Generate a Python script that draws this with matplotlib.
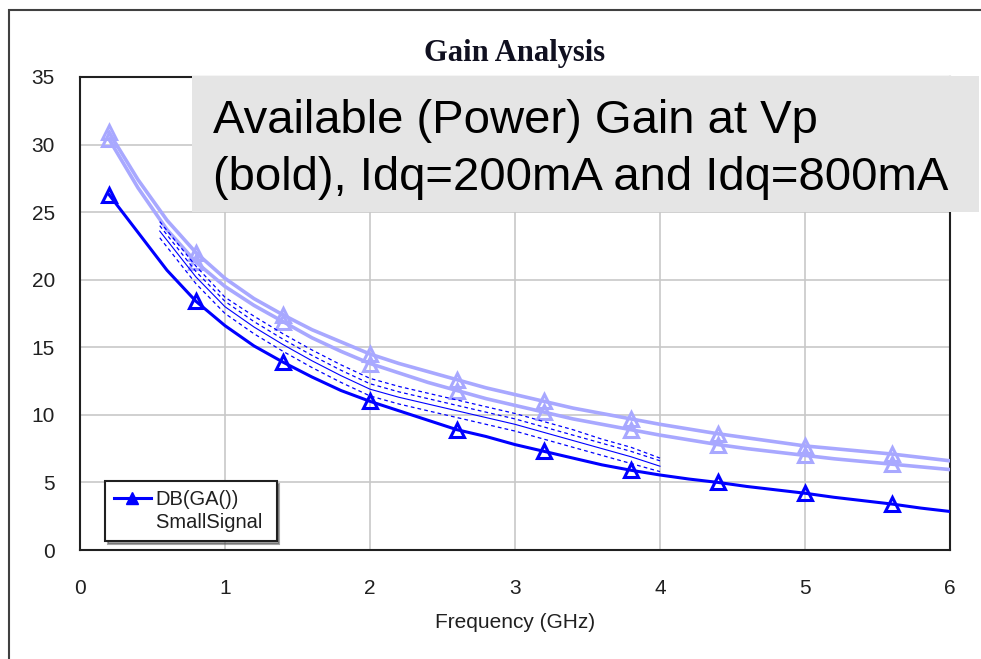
import numpy as np
import matplotlib
matplotlib.use("Agg")
import matplotlib.pyplot as plt
from matplotlib.patches import Rectangle
from matplotlib.lines import Line2D

# frequency grid of the traces (GHz)
freq = [0.2, 0.4, 0.6, 0.8, 1.0, 1.2, 1.4, 1.6, 1.8, 2.0,
        2.2, 2.4, 2.6, 2.8, 3.0, 3.2, 3.4, 3.6, 3.8, 4.0,
        4.2, 4.4, 4.6, 4.8, 5.0, 5.2, 5.4, 5.6, 5.8, 6.0]

# DB(GA()) small signal at Vp (bold trace)
ga_vp = [26.3, 23.5, 20.7, 18.4, 16.6, 15.1, 13.9, 12.8, 11.8, 11.0,
         10.3, 9.6, 8.9, 8.4, 7.8, 7.3, 6.8, 6.3, 5.9, 5.55,
         5.25, 5.0, 4.7, 4.45, 4.2, 3.9, 3.65, 3.4, 3.1, 2.85]

# light traces, Idq=200mA and Idq=800mA
ga_idq_a = [30.9, 27.4, 24.4, 22.0, 20.1, 18.6, 17.4, 16.3, 15.4, 14.5,
            13.8, 13.2, 12.6, 12.0, 11.5, 11.0, 10.5, 10.1, 9.7, 9.3,
            8.95, 8.6, 8.3, 8.0, 7.7, 7.5, 7.3, 7.1, 6.85, 6.6]
ga_idq_b = [30.4, 26.8, 23.7, 21.3, 19.5, 18.1, 16.9, 15.7, 14.7, 13.8,
            13.1, 12.4, 11.8, 11.2, 10.7, 10.2, 9.7, 9.3, 8.9, 8.5,
            8.15, 7.8, 7.5, 7.25, 7.0, 6.75, 6.55, 6.35, 6.15, 5.95]

# thin measured traces (0.55 - 4 GHz)
freq_m = [0.55, 0.8, 1.0, 1.2, 1.4, 1.6, 1.8, 2.0, 2.2, 2.4,
          2.6, 2.8, 3.0, 3.2, 3.4, 3.6, 3.8, 4.0]
meas_mid = [23.6, 20.2, 18.0, 16.5, 15.2, 14.0, 12.9, 11.9, 11.3, 10.8,
            10.3, 9.8, 9.3, 8.7, 8.1, 7.5, 6.9, 6.2]
meas_hi2 = [24.3, 21.0, 18.7, 17.3, 16.0, 14.8, 13.7, 12.7, 12.1, 11.6,
            11.1, 10.6, 10.1, 9.5, 8.9, 8.2, 7.6, 6.8]
meas_hi = [24.0, 20.6, 18.4, 16.9, 15.6, 14.4, 13.3, 12.3, 11.7, 11.2,
           10.7, 10.2, 9.7, 9.1, 8.5, 7.9, 7.3, 6.6]
meas_lo = [23.1, 19.7, 17.5, 16.0, 14.7, 13.5, 12.4, 11.4, 10.8, 10.3,
           9.8, 9.3, 8.8, 8.2, 7.6, 7.0, 6.4, 5.8]

xticks = [0, 1, 2, 3, 4, 5, 6]
yticks = [0, 5, 10, 15, 20, 25, 30, 35]

W, H = 981, 659
fig = plt.figure(figsize=(W / 100, H / 100), dpi=100)
ax = fig.add_axes([80 / W, 1 - 550 / H, 870 / W, 473 / H])

blue = '#0000ff'
light = '#a8a8ff'
txt = '#202020'

# light traces
for y in (ga_idq_a, ga_idq_b):
    ax.plot(freq, y, color=light, lw=2.6, marker='^', ms=10,
            mfc='none', mec=light, mew=2.2, markevery=(0, 3), zorder=3)

# thin traces
ax.plot(freq_m, meas_mid, color=blue, lw=0.8, zorder=3)
for y in (meas_hi2, meas_hi, meas_lo):
    ax.plot(freq_m, y, color=blue, lw=0.9, ls=(0, (3, 2.5)), zorder=3)

# bold trace
ln, = ax.plot(freq, ga_vp, color=blue, lw=2.2, marker='^', ms=10,
              mfc='none', mec=blue, mew=2.2, markevery=(0, 3), zorder=4)

ax.set_xlim(0, 6)
ax.set_ylim(0, 35)
ax.set_xticks(xticks)
ax.set_yticks(yticks)
ax.grid(True, color='#c8c8c8', lw=1.2)
ax.set_axisbelow(True)
ax.tick_params(length=0, labelsize=15, colors=txt)
ax.tick_params(axis='y', pad=18)
ax.tick_params(axis='x', pad=21)
for lab in ax.get_xticklabels() + ax.get_yticklabels():
    lab.set_family('Liberation Sans')
for s in ax.spines.values():
    s.set_color(txt)
    s.set_linewidth(1.5)
ax.set_xlabel('Frequency (GHz)', family='Liberation Sans', fontsize=15,
              color=txt, labelpad=11)

# legend: line next to first label line only
blank = Line2D([], [], color='none')
handle = Line2D([], [], color=blue, lw=2.2, marker='^', ms=8, mfc=blue, mec=blue)
leg = ax.legend([handle, blank], ['DB(GA())', 'SmallSignal '],
                loc='lower left', bbox_to_anchor=(0.029, 0.019),
                prop={'family': 'Liberation Sans', 'size': 14.5},
                fancybox=False, shadow=True, edgecolor=txt,
                handlelength=1.8, handletextpad=0.25, borderpad=0.45,
                labelspacing=0.2, borderaxespad=0, framealpha=1)
leg.get_frame().set_linewidth(1.5)
for t in leg.get_texts():
    t.set_color(txt)

# outer frame
fig.add_artist(Rectangle((9 / W, -0.1), 1.1, 1 - 10 / H + 0.1,
                         transform=fig.transFigure, fill=False,
                         ec='#404040', lw=1.5, zorder=1))

fig.text(515 / W, 1 - 53 / H, 'Gain Analysis', ha='center', va='center',
         family='Liberation Serif', weight='bold', fontsize=22, color='#101020')

# annotation box
fig.add_artist(Rectangle((192 / W, 1 - 212 / H), (979 - 192) / W, 136 / H,
                         transform=fig.transFigure, fc='#e5e5e5', ec='none',
                         zorder=5))
fig.text(213 / W, 1 - 133 / H, 'Available (Power) Gain at Vp',
         family='Liberation Sans', fontsize=34, va='baseline', zorder=6)
fig.text(213 / W, 1 - 190 / H, '(bold), Idq=200mA and Idq=800mA',
         family='Liberation Sans', fontsize=34, va='baseline', zorder=6)

fig.savefig('out.png', dpi=100, facecolor='white')
